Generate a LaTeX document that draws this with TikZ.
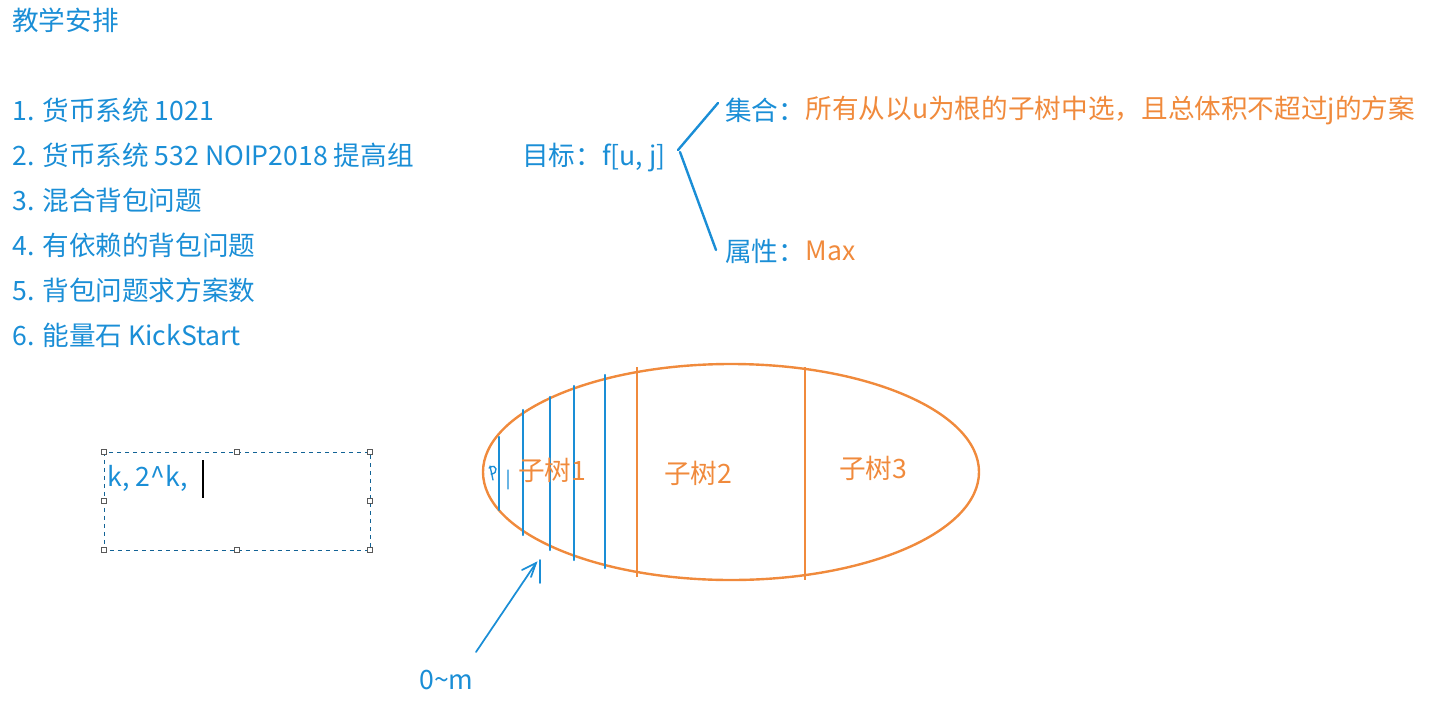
\documentclass[tikz,border=0pt]{standalone}
\usepackage{fontspec}
\setmainfont{Noto Sans CJK SC}
\usetikzlibrary{positioning}
\definecolor{inkblue}{HTML}{1A8ED6}
\definecolor{inkorange}{HTML}{F08A3C}
\tikzset{
  item/.style={anchor=west, text=inkblue, font=\fontsize{20}{24}\selectfont, inner sep=0pt},
  note/.style={anchor=west, text=inkorange, font=\fontsize{20}{24}\selectfont, inner sep=0pt},
  pen/.style={inkblue, line width=2.2pt, line cap=round},
  handle/.style={draw=gray!70!black, fill=white, minimum size=4pt, inner sep=0pt, line width=0.4pt}
}
\begin{document}
\begin{tikzpicture}[x=0.0264cm, y=-0.0264cm]
    \useasboundingbox (0,0) rectangle (1435,727);

    % Lesson list
    \node[item] (title) at (12,20) {教学安排};
    \node[item] (l1) at (12,110) {1. 货币系统 1021};
    \node[item] (l2) at (12,155) {2. 货币系统 532 NOIP2018 提高组};
    \node[item] (l3) at (12,200) {3. 混合背包问题};
    \node[item] (l4) at (12,245) {4. 有依赖的背包问题};
    \node[item] (l5) at (12,290) {5. 背包问题求方案数};
    \node[item] (l6) at (12,335) {6. 能量石 KickStart};

    % Goal with two branches
    \node[item] (goal) at (522,158) {目标：f[u, j]};
    \coordinate (b0) at (678,150);
    \coordinate (b1) at (680,152);
    \node[item] (setlbl) at (725,110) {集合：};
    \node[note, right=0pt of setlbl] (setval) {所有从以u为根的子树中选，且总体积不超过j的方案};
    \node[item] (proplbl) at (725,251) {属性：};
    \node[note, right=0pt of proplbl] (propval) {Max};
    \draw[pen, line width=1.8pt] (b0) -- (718,103);
    \draw[pen, line width=1.8pt] (b1) -- (716,250);

    % Text box with handles
    \draw[inkblue!70!black, dashed, line width=0.5pt] (104,452) rectangle (370,550);
    \foreach \hx in {104,237,370}
        \foreach \hy in {452,550}
            \node[handle] at (\hx,\hy) {};
    \node[handle] at (104,501) {};
    \node[handle] at (370,501) {};
    \node[item] (kbox) at (107,478) {k, 2\textasciicircum k,};
    \draw[black, line width=0.8pt] (203,460) -- (203,498);

    % Subtree ellipse
    \draw[inkorange, line width=1.8pt] (731,472) ellipse [x radius=248, y radius=108];
    \draw[inkorange, line width=1.8pt] (637,367) -- (637,577);
    \draw[inkorange, line width=1.8pt] (805,367) -- (805,580);
    \foreach \lx/\ya/\yb in {499/437/510, 523/410/535, 550/397/550, 574/386/560, 605/375/568}
        \draw[pen, line width=1.8pt] (\lx,\ya) -- (\lx,\yb);
    \node[note] (t1) at (518,470) {子树1};
    \node[note] (t2) at (664,473) {子树2};
    \node[note] (t3) at (839,468) {子树3};
    % scribble near left tip
    \draw[pen, line width=1pt] (490,466) -- (493,480) (489,468) .. controls (497,462) and (499,474) .. (491,474) (508,470) -- (508,489);

    % Pointer to 0~m
    \node[item] (range) at (419,680) {0\textasciitilde m};
    \coordinate (tip) at (536,563);
    \draw[pen, line width=1.3pt] (476,652) -- (tip);
    \draw[pen, line width=1.3pt] (522,570) -- (536,563) -- (531,577);
    \draw[pen, line width=1.3pt] (540,560) -- (540,583);
\end{tikzpicture}
\end{document}
